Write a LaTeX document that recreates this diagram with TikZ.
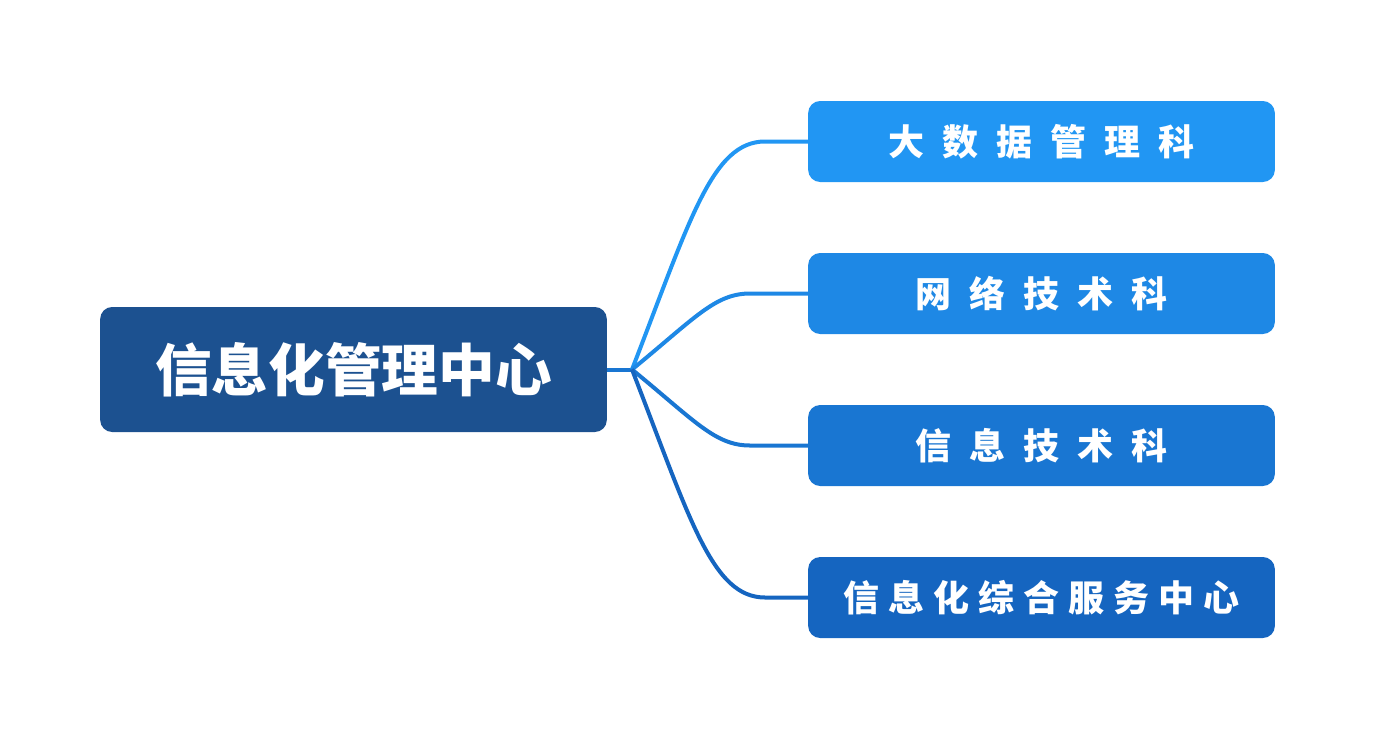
\documentclass[tikz,border=0pt]{standalone}
\usepackage{fontspec}
\newfontfamily\cjk{Noto Sans CJK SC}
\usepackage{tikz}
\usetikzlibrary{positioning}
\definecolor{rootblue}{HTML}{1C5190}
\definecolor{blueA}{HTML}{2196F3}
\definecolor{blueB}{HTML}{1E88E5}
\definecolor{blueC}{HTML}{1976D2}
\definecolor{blueD}{HTML}{1565C0}
\newcommand\wide[1]{\addfontfeature{LetterSpace=50}#1\hspace{-0.25em}}
\newcommand\tight[1]{\addfontfeature{LetterSpace=25}#1\hspace{-0.125em}}

\begin{document}
\begin{tikzpicture}[x=0.75pt,y=-0.75pt,
    box/.style={rounded corners=9pt,text=white,inner sep=0pt},
    leaf/.style={box,minimum width=350pt,minimum height=60.75pt,
      font=\cjk\bfseries\fontsize{27}{30}\selectfont},
    link/.style={line width=3pt}]
    \useasboundingbox (0,0) rectangle (1376,740);
    \node[box,fill=rootblue,minimum width=380pt,minimum height=93.75pt,
      font=\cjk\bfseries\fontsize{42.5}{45}\selectfont] (root) at (353.5,369.5) {信息化管理中心};
    \coordinate (hub) at (632,369.5);
    \node[leaf,fill=blueA] (c1) at (1041.5,141.5) {\wide{大数据管理科}};
    \node[leaf,fill=blueB] (c2) at (1041.5,293.5) {\wide{网络技术科}};
    \node[leaf,fill=blueC] (c3) at (1041.5,445.5) {\wide{信息技术科}};
    \node[leaf,fill=blueD] (c4) at (1041.5,597.5) {\tight{信息化综合服务中心}};
    \draw[link,blueC] (root.east) -- (hub);
    \draw[link,blueA] (hub) .. controls (690,220) and (712,141.5) .. (765,141.5) -- (c1.west);
    \draw[link,blueB] (hub) .. controls (695,318) and (715,293.5) .. (750,293.5) -- (c2.west);
    \draw[link,blueC] (hub) .. controls (695,421) and (715,445.5) .. (750,445.5) -- (c3.west);
    \draw[link,blueD] (hub) .. controls (690,519) and (712,597.5) .. (765,597.5) -- (c4.west);
  \end{tikzpicture}
\end{document}
